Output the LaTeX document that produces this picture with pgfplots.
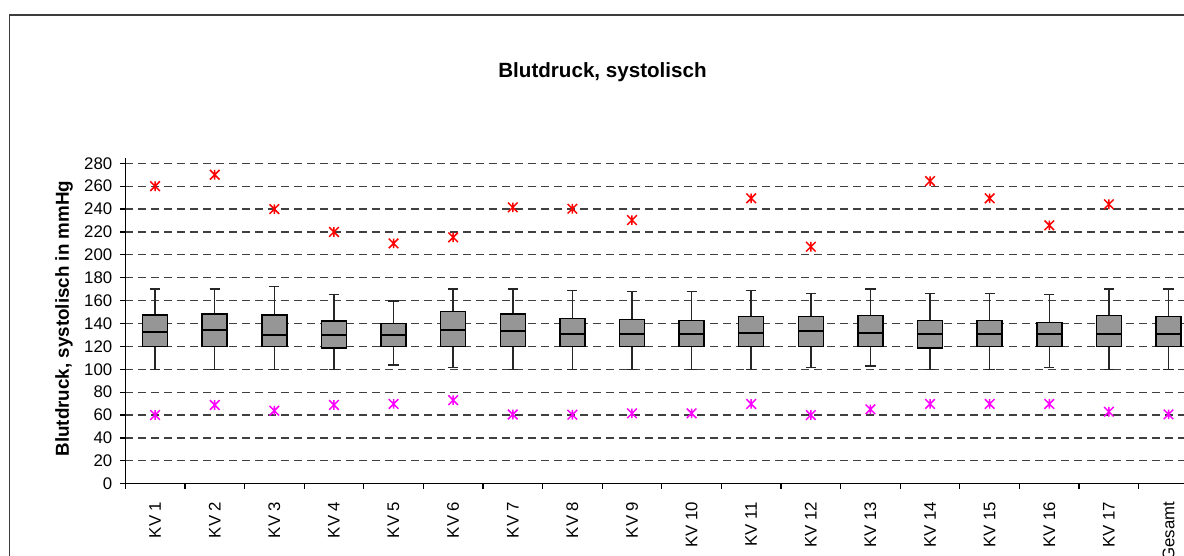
\documentclass[border=0pt]{standalone}
\usepackage{pgfplots}
\pgfplotsset{compat=1.18}
\usepackage{fontspec}
\setmainfont{Liberation Sans}

\definecolor{boxgray}{RGB}{150,150,150}
\definecolor{frame}{RGB}{60,60,60}
\definecolor{outhi}{RGB}{255,0,0}
\definecolor{outlo}{RGB}{255,0,255}

% Excel-style star: an x with a vertical bar
\pgfdeclareplotmark{xstar}{%
  \pgfpathmoveto{\pgfqpoint{-\pgfplotmarksize}{-\pgfplotmarksize}}%
  \pgfpathlineto{\pgfqpoint{\pgfplotmarksize}{\pgfplotmarksize}}%
  \pgfpathmoveto{\pgfqpoint{-\pgfplotmarksize}{\pgfplotmarksize}}%
  \pgfpathlineto{\pgfqpoint{\pgfplotmarksize}{-\pgfplotmarksize}}%
  \pgfpathmoveto{\pgfqpoint{0pt}{-\pgfplotmarksize}}%
  \pgfpathlineto{\pgfqpoint{0pt}{\pgfplotmarksize}}%
  \pgfusepathqstroke}

% one box at position #1: low whisker, q1, median, q3, high whisker
\newcommand{\kvbox}[6]{%
  \addplot[black!85, line width=0.75pt, unbounded coords=jump]
    table[row sep=\\, x expr=#1+\thisrowno{0}, y index=1]
    {0 #2\\ 0 #3\\ nan nan\\ 0 #5\\ 0 #6\\ nan nan\\
     -0.085 #2\\ 0.085 #2\\ nan nan\\ -0.085 #6\\ 0.085 #6\\};
  \addplot[draw=black, fill=boxgray, line width=0.75pt]
    table[row sep=\\, x expr=#1+\thisrowno{0}, y index=1]
    {-0.21 #3\\ 0.21 #3\\ 0.21 #5\\ -0.21 #5\\} -- cycle;
  \addplot[black, line width=0.9pt]
    table[row sep=\\, x expr=#1+\thisrowno{0}, y index=1]
    {-0.21 #4\\ 0.21 #4\\};}

\begin{document}
\begin{tikzpicture}
% picture units: 1px of the reference = 0.5pt
\draw[frame, line width=0.7pt] (4.75pt,270.5pt) rectangle (620pt,-20pt);

\begin{axis}[
  at={(62.65pt,36.15pt)}, anchor=south west,
  scale only axis,
  width=536.5pt, height=163.05pt,
  xmin=-0.5, xmax=17.5,
  ymin=0, ymax=285,
  axis x line*=bottom, axis y line*=left,
  axis line style={-, black, line width=0.6pt},
  ytick={0,20,...,280},
  xtick={0,...,17},
  xticklabels={KV 1,KV 2,KV 3,KV 4,KV 5,KV 6,KV 7,KV 8,KV 9,KV 10,
               KV 11,KV 12,KV 13,KV 14,KV 15,KV 16,KV 17,Gesamt},
  minor xtick={-0.5,0.5,...,16.5},
  major x tick style={draw=none},
  minor x tick style={black, line width=0.6pt},
  y tick style={black, line width=0.6pt},
  tick align=outside,
  major tick length=2.5pt, minor tick length=2.5pt,
  ymajorgrids,
  grid style={black!75, line width=0.6pt, dash pattern=on 4pt off 2.5pt},
  /pgf/number format/assume math mode=true,
  yticklabel style={font=\fontsize{8.4}{10}\selectfont, xshift=-0.5pt},
  xticklabel style={font=\fontsize{8.4}{10}\selectfont, rotate=90,
                    anchor=east, xshift=-3pt},
  clip=false,
]
%        pos  low    q1     med    q3     high
\kvbox{0}{100}{120}{132.3}{147.4}{170}
\kvbox{1}{100}{120}{134.3}{148.3}{170}
\kvbox{2}{100}{120}{130}{147.4}{172.2}
\kvbox{3}{100}{118.6}{130}{142.2}{165.2}
\kvbox{4}{103.7}{120}{130}{140.2}{159.7}
\kvbox{5}{101.7}{120}{134.3}{150.3}{170}
\kvbox{6}{100}{120}{133.4}{148.3}{170}
\kvbox{7}{100}{120}{130.5}{144.5}{168.7}
\kvbox{8}{100}{120}{130.5}{143.3}{167.8}
\kvbox{9}{100}{120}{130.5}{142.5}{167.8}
\kvbox{10}{100}{120}{131.4}{146.3}{168.7}
\kvbox{11}{101.4}{120}{133.4}{146}{166.4}
\kvbox{12}{102.9}{120}{131.4}{147.2}{170}
\kvbox{13}{100}{118.6}{130.5}{142.5}{166.4}
\kvbox{14}{100}{120}{130.5}{142.5}{166.4}
\kvbox{15}{101.4}{120}{130.5}{141}{165.2}
\kvbox{16}{100}{120}{130.5}{147.2}{170}
\kvbox{17}{100}{120}{130.5}{146}{170}

% high outliers
\addplot[only marks, mark=xstar, mark size=2.4pt, outhi, line width=0.75pt]
  coordinates {(0,260) (1,270) (2,240) (3,220) (4,210) (5,215.3) (6,241.5)
               (7,240.3) (8,230.4) (10,249.4) (11,207.1) (13,264.5)
               (14,249.4) (15,225.8) (16,244.2)};
% low outliers
\addplot[only marks, mark=xstar, mark size=2.4pt, outlo, line width=0.75pt]
  coordinates {(0,60) (1,68.8) (2,63.8) (3,68.8) (4,69.7) (5,73) (6,60.5)
               (7,60.3) (8,61.5) (9,61.5) (10,69.7) (11,60) (12,65)
               (13,69.7) (14,69.7) (15,69.7) (16,62.9) (17,60.6)};
\end{axis}

\node[anchor=base, font=\fontsize{10.3}{12}\selectfont\bfseries]
  at (301.25pt,239pt) {Blutdruck, systolisch};
\node[rotate=90, font=\fontsize{9.4}{11}\selectfont\bfseries]
  at (32pt,118.75pt) {Blutdruck, systolisch in mmHg};

\pgfresetboundingbox
\useasboundingbox (0,0) rectangle (592pt,278pt);
\end{tikzpicture}
\end{document}
